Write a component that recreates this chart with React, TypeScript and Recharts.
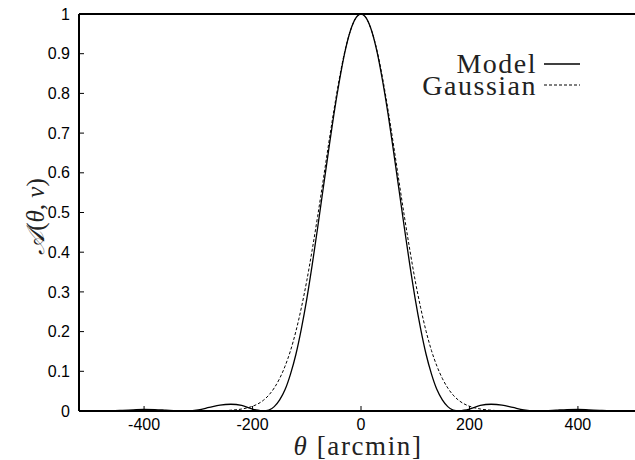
import React from 'react';
import { LineChart, Line, XAxis, YAxis, Legend } from 'recharts';

// beam angle in arcmin
const theta = [
  -520, -500, -480, -460, -440, -420, -400, -380, -360, -340, -320, -300, -280, -260, -240, -220,
  -200, -190, -180, -170, -160, -150, -140, -130, -120, -110, -100, -90, -80, -70, -60, -50, -40, -30, -20, -10,
  0,
  10, 20, 30, 40, 50, 60, 70, 80, 90, 100, 110, 120, 130, 140, 150, 160, 170, 180, 190, 200,
  220, 240, 260, 280, 300, 320, 340, 360, 380, 400, 420, 440, 460, 480, 500, 520,
];

const model = [
  0.001, 0.0004, 0, 0.0004, 0.0016, 0.003, 0.0041, 0.0036, 0.002, 0.0003, 0.0004, 0.003, 0.009, 0.015, 0.017, 0.014,
  0.005, 0.002, 0, 0.002, 0.011, 0.028, 0.054, 0.093, 0.143, 0.207, 0.282, 0.368, 0.461, 0.558, 0.654, 0.747, 0.83, 0.902, 0.956, 0.989,
  1,
  0.989, 0.956, 0.902, 0.83, 0.747, 0.654, 0.558, 0.461, 0.368, 0.282, 0.207, 0.143, 0.093, 0.054, 0.028, 0.011, 0.002, 0, 0.002, 0.005,
  0.014, 0.017, 0.015, 0.009, 0.003, 0.0004, 0.0003, 0.002, 0.0036, 0.0041, 0.003, 0.0016, 0.0004, 0, 0.0004, 0.001,
];

const gaussian = [
  0, 0, 0, 0, 0, 0, 0, 0, 0, 0, 0, 0, 0.0001, 0.0005, 0.002, 0.005,
  0.012, 0.018, 0.027, 0.04, 0.058, 0.082, 0.113, 0.152, 0.201, 0.26, 0.328, 0.406, 0.49, 0.579, 0.67, 0.757, 0.837, 0.905, 0.956, 0.989,
  1,
  0.989, 0.956, 0.905, 0.837, 0.757, 0.67, 0.579, 0.49, 0.406, 0.328, 0.26, 0.201, 0.152, 0.113, 0.082, 0.058, 0.04, 0.027, 0.018, 0.012,
  0.005, 0.002, 0.0005, 0.0001, 0, 0, 0, 0, 0, 0, 0, 0, 0, 0, 0, 0,
];

const xTicks = [-400, -200, 0, 200, 400];
const yTicks = [0, 0.1, 0.2, 0.3, 0.4, 0.5, 0.6, 0.7, 0.8, 0.9, 1];

const data = theta.map((t, i) => ({ theta: t, model: model[i], gaussian: gaussian[i] }));

const serif = '"Liberation Serif", "Times New Roman", serif';
const sans = '"Liberation Sans", Arial, sans-serif';

const XLabel = (props: any) => {
  const { x, y, width } = props.viewBox;
  return (
    <text x={x + width / 2 - 3} y={y + 44} textAnchor="middle" fontFamily={serif} fontSize={27} letterSpacing={1.6} fill="#222">
      <tspan fontStyle="italic">θ</tspan> [arcmin]
    </text>
  );
};

const YLabel = (props: any) => {
  const { x, y, height } = props.viewBox;
  const cx = x + 16;
  const cy = y + height / 2 + 4;
  return (
    <text
      x={cx}
      y={cy}
      transform={`rotate(-90, ${cx}, ${cy})`}
      textAnchor="middle"
      dominantBaseline="central"
      fontFamily={serif}
      fontSize={25}
      fill="#222"
    >
      <tspan fontStyle="italic">𝒜</tspan>(<tspan fontStyle="italic">θ</tspan>, <tspan fontStyle="italic">ν</tspan>)
    </text>
  );
};

const LegendBox = () => (
  <svg width={635} height={110} style={{ display: 'block' }}>
    <text x={537} y={73} textAnchor="end" fontFamily={serif} fontSize={28} letterSpacing={1.5} fill="#222">Model</text>
    <line x1={544} x2={580} y1={64} y2={64} stroke="#000" strokeWidth={1.3} />
    <text x={537} y={95} textAnchor="end" fontFamily={serif} fontSize={28} letterSpacing={1.5} fill="#222">Gaussian</text>
    <line x1={544} x2={580} y1={85} y2={85} stroke="#000" strokeWidth={1} strokeDasharray="3 2" />
  </svg>
);

const axisLine = { stroke: '#000', strokeWidth: 2 };
const tickLine = { stroke: '#000', strokeWidth: 1 };
const tickFont = { fontFamily: sans, fontSize: 16, fill: '#000' };

export default function App() {
  return (
    <div style={{ position: 'absolute', left: 0, top: 0, width: 635, height: 460, overflow: 'hidden', background: '#fff' }}>
      <LineChart width={700} height={460} data={data} margin={{ top: 13, right: 57, bottom: 19, left: 19 }}>
        <XAxis
          dataKey="theta"
          type="number"
          domain={[-520, 520]}
          ticks={xTicks}
          allowDataOverflow
          height={30}
          axisLine={axisLine}
          tickLine={tickLine}
          tickSize={-5}
          tickMargin={13}
          tick={tickFont}
          label={<XLabel />}
        />
        <XAxis
          xAxisId="top"
          orientation="top"
          dataKey="theta"
          type="number"
          domain={[-520, 520]}
          ticks={xTicks}
          allowDataOverflow
          height={1}
          axisLine={axisLine}
          tickLine={tickLine}
          tickSize={-5}
          tick={false}
        />
        <YAxis
          type="number"
          domain={[0, 1]}
          ticks={yTicks}
          width={60}
          axisLine={axisLine}
          tickLine={tickLine}
          tickSize={-5}
          tickMargin={14}
          tick={tickFont}
          tickFormatter={(v: number) => String(v)}
          label={<YLabel />}
        />
        <Legend
          layout="vertical"
          align="center"
          verticalAlign="middle"
          content={<LegendBox />}
          wrapperStyle={{ top: 0, left: 0, width: 635, height: 110, pointerEvents: 'none' }}
        />
        <Line type="monotone" dataKey="gaussian" stroke="#000" strokeWidth={1} strokeDasharray="3 2" dot={false} isAnimationActive={false} />
        <Line type="monotone" dataKey="model" stroke="#000" strokeWidth={1.3} dot={false} isAnimationActive={false} />
      </LineChart>
    </div>
  );
}
